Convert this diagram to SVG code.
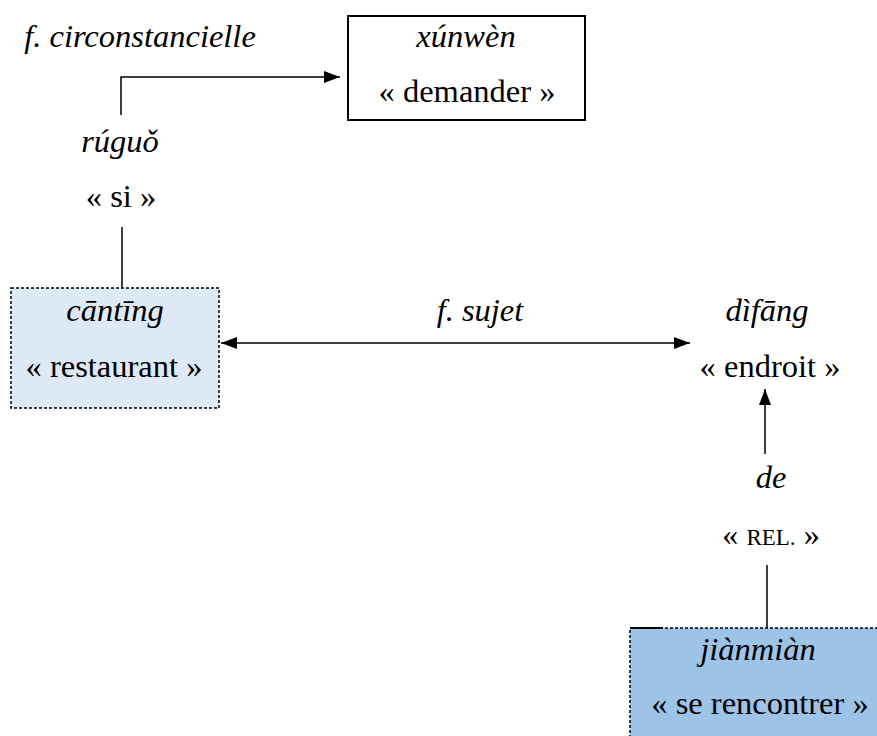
<svg xmlns="http://www.w3.org/2000/svg" width="877" height="736" viewBox="0 0 877 736">
<defs>
<style>
text{font-family:'Liberation Serif','Tinos','DejaVu Serif',serif;font-size:32.5px;fill:#000;text-anchor:middle}
.i{font-style:italic}
.sm{font-size:23px}
.ln{stroke:#000;stroke-width:1.5;fill:none}
</style>
<marker id="ah" viewBox="0 0 16 12" refX="16" refY="6" markerWidth="16" markerHeight="12" markerUnits="userSpaceOnUse" orient="auto-start-reverse">
<path d="M0,0 L16,6 L0,12 Z" fill="#000"/>
</marker>
</defs>
<rect width="877" height="736" fill="#fff"/>
<g id="connectors">
<polyline class="ln" points="121,115 121,77 340,77" marker-end="url(#ah)"/>
<line class="ln" x1="122" y1="227" x2="122" y2="288"/>
<line class="ln" x1="221" y1="343" x2="690" y2="343" stroke-width="2.4" marker-start="url(#ah)" marker-end="url(#ah)"/>
<line class="ln" x1="765" y1="454" x2="765" y2="389" marker-end="url(#ah)"/>
<line class="ln" x1="767" y1="565" x2="767" y2="628"/>
<text class="i" x="140" y="47">f. circonstancielle</text>
<text class="i" x="480" y="321">f. sujet</text>
</g>
<g id="xunwen">
<rect x="348" y="16" width="237" height="104" fill="#fff" stroke="#000" stroke-width="2"/>
<text class="i" x="466" y="47">xúnwèn</text>
<text x="467" y="102">« demander »</text>
</g>
<g id="ruguo">
<text class="i" x="120" y="152">rúguǒ</text>
<text x="121" y="207">« si »</text>
</g>
<g id="canting">
<rect x="11" y="288" width="208" height="120" fill="#dee9f6" stroke="#000" stroke-width="1.5" stroke-dasharray="3,2"/>
<text class="i" x="115" y="321">cāntīng</text>
<text x="114" y="377">« restaurant »</text>
</g>
<g id="difang">
<text class="i" x="767" y="321">dìfāng</text>
<text x="770" y="377">« endroit »</text>
</g>
<g id="de">
<text class="i" x="771" y="488">de</text>
<text x="771" y="545">« <tspan class="sm">REL.</tspan> »</text>
</g>
<g id="jianmian">
<rect x="630" y="628" width="260" height="120" fill="#9dc3e6" stroke="#000" stroke-width="1.5" stroke-dasharray="3,2"/>
<line x1="630" y1="628" x2="663" y2="628" stroke="#000" stroke-width="2"/>
<text class="i" x="758" y="660">jiànmiàn</text>
<text x="760" y="714">« se rencontrer »</text>
</g>
</svg>
